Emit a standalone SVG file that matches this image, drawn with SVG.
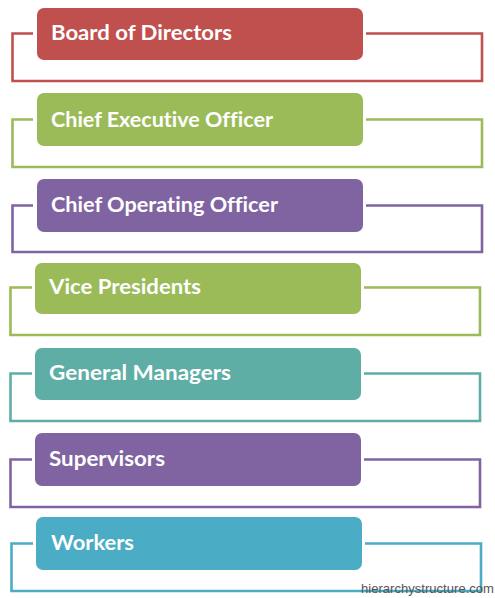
<svg xmlns="http://www.w3.org/2000/svg" width="495" height="598" viewBox="0 0 495 598">
<style>
.br{fill:none;stroke-width:2.6;stroke-linejoin:miter}
.lbl{font-family:Lato,"Open Sans","DejaVu Sans",sans-serif;font-weight:bold;font-size:20px;fill:#ffffff;font-variant-ligatures:none;font-feature-settings:"liga" 0}
.wm{font-family:"Liberation Sans",Arial,sans-serif;font-size:13px;fill:#555555}
.red{fill:#C0504D}.grn{fill:#9BBB59}.pur{fill:#8064A2}.tea{fill:#5EAEA5}.blu{fill:#4BACC6}
</style>
<rect width="495" height="598" fill="#ffffff"/>
<g id="connectors">
<path class="br" stroke="#C0504D" d="M33 33.5 H12.5 V81 H482 V33.5 H366"/>
<path class="br" stroke="#9BBB59" d="M33 119.5 H12.5 V167 H482 V119.5 H366"/>
<path class="br" stroke="#8064A2" d="M33 205.5 H12.5 V252 H482 V205.5 H366"/>
<path class="br" stroke="#9BBB59" d="M32 287.5 H10.5 V335 H480 V287.5 H364"/>
<path class="br" stroke="#5EAEA5" d="M32 373.5 H10.5 V421 H480 V373.5 H364"/>
<path class="br" stroke="#8064A2" d="M32 459.5 H10.5 V507 H480 V459.5 H364"/>
<path class="br" stroke="#4BACC6" d="M33 543.5 H11.5 V591 H481 V543.5 H365"/>
</g>
<g id="board">
<rect class="red" x="37" y="8" width="326" height="52" rx="7"/>
<text class="lbl" x="51" y="39.5" textLength="181" lengthAdjust="spacingAndGlyphs">Board of Directors</text>
</g>
<g id="ceo">
<rect class="grn" x="37" y="93" width="326" height="53" rx="7"/>
<text class="lbl" x="51" y="126.7" textLength="222" lengthAdjust="spacingAndGlyphs">Chief Executive Officer</text>
</g>
<g id="coo">
<rect class="pur" x="37" y="179" width="326" height="53" rx="7"/>
<text class="lbl" x="51" y="212" textLength="227" lengthAdjust="spacingAndGlyphs">Chief Operating Officer</text>
</g>
<g id="vp">
<rect class="grn" x="35" y="263" width="326" height="51" rx="7"/>
<text class="lbl" x="49" y="294" textLength="152" lengthAdjust="spacingAndGlyphs">Vice Presidents</text>
</g>
<g id="gm">
<rect class="tea" x="35" y="348" width="326" height="52" rx="7"/>
<text class="lbl" x="49" y="380" textLength="182" lengthAdjust="spacingAndGlyphs">General Managers</text>
</g>
<g id="supervisors">
<rect class="pur" x="35" y="433" width="326" height="53" rx="7"/>
<text class="lbl" x="49" y="466" textLength="116" lengthAdjust="spacingAndGlyphs">Supervisors</text>
</g>
<g id="workers">
<rect class="blu" x="36" y="517" width="326" height="53" rx="7"/>
<text class="lbl" x="51" y="549.5" textLength="83" lengthAdjust="spacingAndGlyphs">Workers</text>
</g>
<text class="wm" x="361" y="593" textLength="133" lengthAdjust="spacingAndGlyphs">hierarchystructure.com</text>
</svg>
